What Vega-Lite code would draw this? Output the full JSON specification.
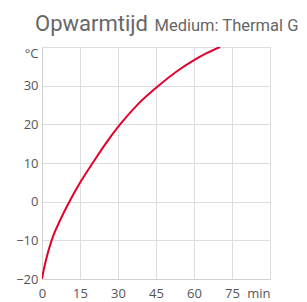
{
  "$schema": "https://vega.github.io/schema/vega-lite/v6.json",
  "width": 228,
  "height": 232,
  "autosize": "none",
  "padding": {"left": 42, "top": 47, "right": 37, "bottom": 23},
  "background": "white",
  "title": {
    "text": "Opwarmtijd",
    "font": "Roboto",
    "fontSize": 22,
    "fontWeight": "normal",
    "color": "#666666",
    "anchor": "start",
    "frame": "group",
    "baseline": "alphabetic",
    "dx": -7,
    "dy": 36,
    "offset": 0
  },
  "data": {
    "values": [
      {"t": 0, "temp": -20},
      {"t": 0.6, "temp": -17.9},
      {"t": 1.6, "temp": -15},
      {"t": 3.8, "temp": -10},
      {"t": 7, "temp": -5},
      {"t": 10.8, "temp": 0},
      {"t": 15, "temp": 4.9},
      {"t": 20, "temp": 10},
      {"t": 25, "temp": 14.9},
      {"t": 30.5, "temp": 19.7},
      {"t": 38, "temp": 25.3},
      {"t": 46, "temp": 30},
      {"t": 53, "temp": 33.6},
      {"t": 60, "temp": 36.6},
      {"t": 65, "temp": 38.4},
      {"t": 70.3, "temp": 40}
    ]
  },
  "mark": {"type": "line", "color": "#e4002b", "strokeWidth": 2, "interpolate": "monotone", "clip": true},
  "encoding": {
    "x": {
      "field": "t",
      "type": "quantitative",
      "scale": {"domain": [0, 90], "nice": false, "zero": false},
      "axis": {
        "values": [0, 15, 30, 45, 60, 75, 90],
        "labelExpr": "datum.value == 90 ? 'min' : datum.label",
        "labelAlign": {"condition": {"test": "datum.value == 90", "value": "right"}, "value": "center"},
        "title": null,
        "ticks": false,
        "labelPadding": 8,
        "labelFont": "Open Sans",
        "labelFontSize": 13,
        "labelColor": "#555555",
        "gridColor": "#dddddd",
        "domainColor": "#d0d0d0",
        "labelFlush": false,
        "labelOverlap": false
      }
    },
    "y": {
      "field": "temp",
      "type": "quantitative",
      "scale": {"domain": [-20, 40], "nice": false, "zero": false},
      "axis": {
        "values": [-20, -10, 0, 10, 20, 30, 40],
        "labelExpr": "datum.value == 40 ? '°C' : datum.label",
        "labelBaseline": {"condition": {"test": "datum.value == 40", "value": "top"}, "value": "middle"},
        "title": "Medium: Thermal G",
        "titleAngle": 0,
        "titleAlign": "left",
        "titleBaseline": "alphabetic",
        "titleX": 112,
        "titleY": -17,
        "titleFont": "Roboto",
        "titleFontSize": 16.5,
        "titleFontWeight": "normal",
        "titleColor": "#666666",
        "ticks": false,
        "labelPadding": 4,
        "labelFont": "Open Sans",
        "labelFontSize": 13,
        "labelColor": "#555555",
        "gridColor": "#dddddd",
        "domainColor": "#d0d0d0",
        "labelFlush": false,
        "labelOverlap": false
      }
    }
  },
  "config": {
    "view": {"stroke": "#dddddd"}
  }
}
